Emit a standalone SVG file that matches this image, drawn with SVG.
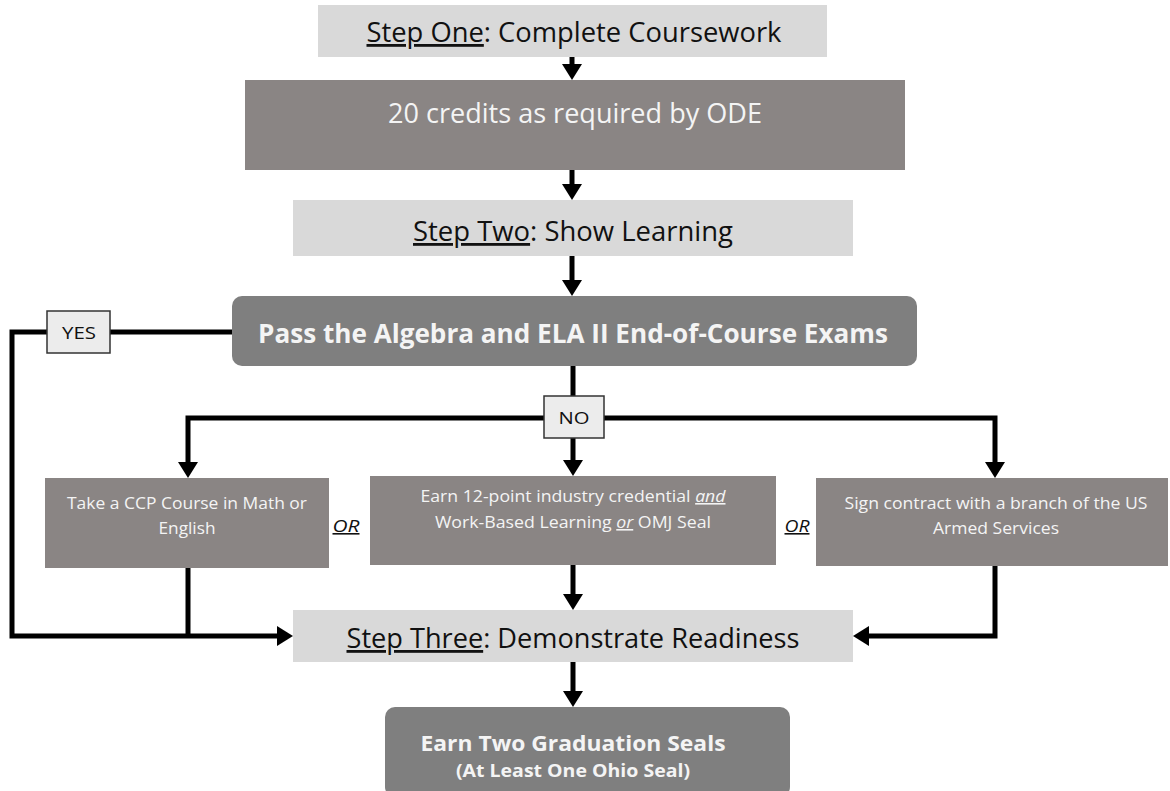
<svg xmlns="http://www.w3.org/2000/svg" width="1170" height="791" viewBox="0 0 1170 791">
<style>
.light{fill:#d9d9d9}
.dark{fill:#8a8584}
.round{fill:#7f7f7f}
.lbl{fill:#ececec;stroke:#333;stroke-width:1.5}
.t{font-family:"Open Sans","Liberation Sans",sans-serif}
.blk{fill:#111}
.wht{fill:#f4f4f4}
.b{font-weight:bold}
.u{text-decoration:underline}
.i{font-style:italic}
.c{fill:none;stroke:#000;stroke-width:5;stroke-linejoin:miter}
</style>
<defs>
<marker id="ah" markerUnits="userSpaceOnUse" markerWidth="16" markerHeight="20" refX="0" refY="10" orient="auto-start-reverse" viewBox="0 0 16 20">
<path d="M0,0 L16,10 L0,20 z" fill="#000"/>
</marker>
</defs>

<g id="connectors">
<path class="c" d="M572,57 V64" marker-end="url(#ah)"/>
<path class="c" d="M572,170 V184" marker-end="url(#ah)"/>
<path class="c" d="M572,256 V280" marker-end="url(#ah)"/>
<path class="c" d="M232,332 H12 V636 H277" marker-end="url(#ah)"/>
<path class="c" d="M573,366 V418"/>
<path class="c" d="M188,462 V418 H995 V462" marker-start="url(#ah)" marker-end="url(#ah)"/>
<path class="c" d="M573,438 V460" marker-end="url(#ah)"/>
<path class="c" d="M188,568 V636"/>
<path class="c" d="M573,565 V594" marker-end="url(#ah)"/>
<path class="c" d="M995,566 V636 H869" marker-end="url(#ah)"/>
<path class="c" d="M573,662 V691" marker-end="url(#ah)"/>
</g>

<g id="step-one">
<rect class="light" x="318" y="5" width="509" height="52"/>
<text class="t blk" x="574" y="42" font-size="28" text-anchor="middle" textLength="415" lengthAdjust="spacingAndGlyphs"><tspan class="u">Step One</tspan>: Complete Coursework</text>
</g>

<g id="credits">
<rect class="dark" x="245" y="80" width="660" height="90"/>
<text class="t wht" x="575" y="123" font-size="28" text-anchor="middle" textLength="374" lengthAdjust="spacingAndGlyphs">20 credits as required by ODE</text>
</g>

<g id="step-two">
<rect class="light" x="293" y="200" width="560" height="56"/>
<text class="t blk" x="573" y="241" font-size="28" text-anchor="middle" textLength="320" lengthAdjust="spacingAndGlyphs"><tspan class="u">Step Two</tspan>: Show Learning</text>
</g>

<g id="pass-exams">
<rect class="round" x="232" y="296" width="685" height="70" rx="10"/>
<text class="t wht b" x="573" y="343" font-size="27" text-anchor="middle" textLength="630" lengthAdjust="spacingAndGlyphs">Pass the Algebra and ELA II End-of-Course Exams</text>
</g>

<g id="yes-label">
<rect class="lbl" x="47" y="311" width="63" height="42"/>
<text class="t blk" x="79" y="339" font-size="17" text-anchor="middle" textLength="34" lengthAdjust="spacingAndGlyphs">YES</text>
</g>

<g id="no-label">
<rect class="lbl" x="544" y="396" width="60" height="42"/>
<text class="t blk" x="574" y="424" font-size="17" text-anchor="middle" textLength="31" lengthAdjust="spacingAndGlyphs">NO</text>
</g>

<g id="ccp-course">
<rect class="dark" x="45" y="478" width="284" height="90"/>
<text class="t wht" x="187" y="509" font-size="16" text-anchor="middle" textLength="240" lengthAdjust="spacingAndGlyphs">Take a CCP Course in Math or</text>
<text class="t wht" x="187" y="534" font-size="16" text-anchor="middle" textLength="57" lengthAdjust="spacingAndGlyphs">English</text>
</g>

<g id="or-1">
<text class="t blk i" x="346" y="532" font-size="16" text-anchor="middle" textLength="27" lengthAdjust="spacingAndGlyphs"><tspan class="u">OR</tspan></text>
</g>

<g id="credential">
<rect class="dark" x="370" y="476" width="406" height="89"/>
<text class="t wht" x="573" y="502" font-size="16" text-anchor="middle" textLength="305" lengthAdjust="spacingAndGlyphs">Earn 12-point industry credential <tspan class="i u">and</tspan></text>
<text class="t wht" x="573" y="528" font-size="16" text-anchor="middle" textLength="276" lengthAdjust="spacingAndGlyphs">Work-Based Learning <tspan class="i u">or</tspan> OMJ Seal</text>
</g>

<g id="or-2">
<text class="t blk i" x="797" y="532" font-size="16" text-anchor="middle" textLength="25" lengthAdjust="spacingAndGlyphs"><tspan class="u">OR</tspan></text>
</g>

<g id="armed-services">
<rect class="dark" x="816" y="478" width="352" height="88"/>
<text class="t wht" x="996" y="509" font-size="16" text-anchor="middle" textLength="303" lengthAdjust="spacingAndGlyphs">Sign contract with a branch of the US</text>
<text class="t wht" x="996" y="534" font-size="16" text-anchor="middle" textLength="126" lengthAdjust="spacingAndGlyphs">Armed Services</text>
</g>

<g id="step-three">
<rect class="light" x="293" y="610" width="560" height="52"/>
<text class="t blk" x="573" y="648" font-size="28" text-anchor="middle" textLength="453" lengthAdjust="spacingAndGlyphs"><tspan class="u">Step Three</tspan>: Demonstrate Readiness</text>
</g>

<g id="graduation-seals">
<rect class="round" x="385" y="707" width="405" height="90" rx="10"/>
<text class="t wht b" x="573" y="751" font-size="21" text-anchor="middle" textLength="305" lengthAdjust="spacingAndGlyphs">Earn Two Graduation Seals</text>
<text class="t wht b" x="573" y="777" font-size="18" text-anchor="middle" textLength="234" lengthAdjust="spacingAndGlyphs">(At Least One Ohio Seal)</text>
</g>
</svg>
